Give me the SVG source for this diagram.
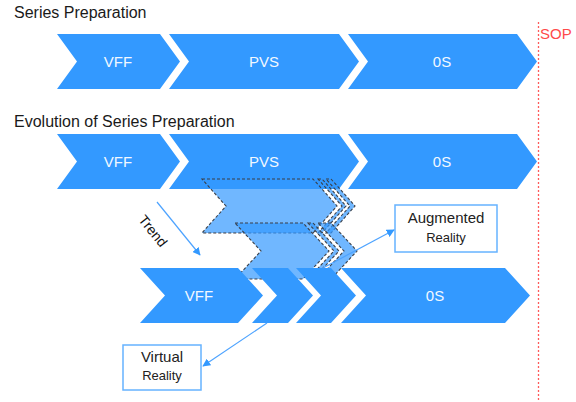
<svg xmlns="http://www.w3.org/2000/svg" width="576" height="402" viewBox="0 0 576 402">
<defs>
<style>
.chev{fill:#3399ff}
.ghost{fill:#3399ff;fill-opacity:0.7;stroke:#3a3f48;stroke-width:1.1;stroke-dasharray:3 2}
.ct{font-family:"Liberation Sans",Arial,sans-serif;font-size:15px;fill:#f2f8ff;text-anchor:middle}
.title{font-family:"Liberation Sans",Arial,sans-serif;font-size:16px;fill:#1a1a1a}
.box{fill:#ffffff;stroke:#66b3ff;stroke-width:1.5}
.bt{font-family:"Liberation Sans",Arial,sans-serif;fill:#222;text-anchor:middle}
.conn{stroke:#4da3ff;stroke-width:1.2;fill:none;marker-end:url(#ah)}
</style>
<marker id="ah" viewBox="0 0 10 10" refX="9" refY="5" markerWidth="8" markerHeight="8" markerUnits="userSpaceOnUse" orient="auto">
<path d="M0,0 L10,5 L0,10 z" fill="#3399ff"/>
</marker>
</defs>
<rect width="576" height="402" fill="#ffffff"/>

<text class="title" x="14" y="18">Series Preparation</text>
<text class="title" x="14" y="127">Evolution of Series Preparation</text>

<g id="sop">
<line x1="538.5" y1="22" x2="538.5" y2="402" stroke="#ff5a5a" stroke-width="1.3" stroke-dasharray="2 2"/>
<text x="540" y="39" font-family="Liberation Sans,Arial,sans-serif" font-size="15" fill="#ff4a4a">SOP</text>
</g>

<g id="row1">
<g id="r1-vff"><polygon class="chev" points="57,34 160,34 180,61.5 160,89 57,89 77,61.5"/><text class="ct" x="118" y="66.5">VFF</text></g>
<g id="r1-pvs"><polygon class="chev" points="169,34 339,34 359,61.5 339,89 169,89 189,61.5"/><text class="ct" x="264" y="66.5">PVS</text></g>
<g id="r1-0s"><polygon class="chev" points="348,34 517,34 537,61.5 517,89 348,89 368,61.5"/><text class="ct" x="442" y="66.5">0S</text></g>
</g>

<g id="row2">
<g id="r2-vff"><polygon class="chev" points="57,134 160,134 180,161.5 160,189 57,189 77,161.5"/><text class="ct" x="118" y="166.5">VFF</text></g>
<g id="r2-pvs"><polygon class="chev" points="169,134 339,134 359,161.5 339,189 169,189 189,161.5"/><text class="ct" x="264" y="166.5">PVS</text></g>
<g id="r2-0s"><polygon class="chev" points="348,134 517,134 537,161.5 517,189 348,189 368,161.5"/><text class="ct" x="442" y="166.5">0S</text></g>
</g>

<g id="ghost-upper">
<polygon class="ghost" points="202,179 313,179 337,206 313,233 202,233 226,206"/>
<polygon class="ghost" points="318,179 322,179 346,206 322,233 318,233 342,206"/>
<polygon class="ghost" points="326,179 331,179 355,206 331,233 326,233 350,206"/>
</g>
<g id="ghost-lower">
<polygon class="ghost" points="235,223 303,223 329,251 303,279 235,279 261,251"/>
<polygon class="ghost" points="308,223 313,223 339,251 313,279 308,279 334,251"/>
<polygon class="ghost" points="318,223 331,223 357,251 331,279 318,279 344,251"/>
</g>

<g id="row3">
<g id="r3-vff"><polygon class="chev" points="140,268 238,268 263,295.5 238,323 140,323 165,295.5"/><text class="ct" x="199" y="300.5">VFF</text></g>
<g id="r3-c2"><polygon class="chev" points="252,268 288,268 313,295.5 288,323 252,323 277,295.5"/></g>
<g id="r3-c3"><polygon class="chev" points="296,268 331,268 356,295.5 331,323 296,323 321,295.5"/></g>
<g id="r3-0s"><polygon class="chev" points="341,268 505,268 530,295.5 505,323 341,323 366,295.5"/><text class="ct" x="435" y="300.5">0S</text></g>
</g>

<g id="ar-box">
<rect class="box" x="395" y="205" width="102" height="47"/>
<text class="bt" x="446" y="223" font-size="15">Augmented</text>
<text class="bt" x="446" y="242" font-size="13">Reality</text>
</g>
<g id="vr-box">
<rect class="box" x="123" y="345" width="78" height="45"/>
<text class="bt" x="162" y="362" font-size="15">Virtual</text>
<text class="bt" x="162" y="380" font-size="13">Reality</text>
</g>

<g id="connectors">
<line class="conn" x1="157" y1="202" x2="200" y2="255"/>
<line class="conn" x1="323" y1="268" x2="394" y2="230"/>
<line class="conn" x1="267" y1="323" x2="203" y2="366"/>
</g>
<text transform="translate(153,231) rotate(51)" text-anchor="middle" dy="0.35em" font-family="Liberation Sans,Arial,sans-serif" font-size="14" fill="#111">Trend</text>
</svg>
